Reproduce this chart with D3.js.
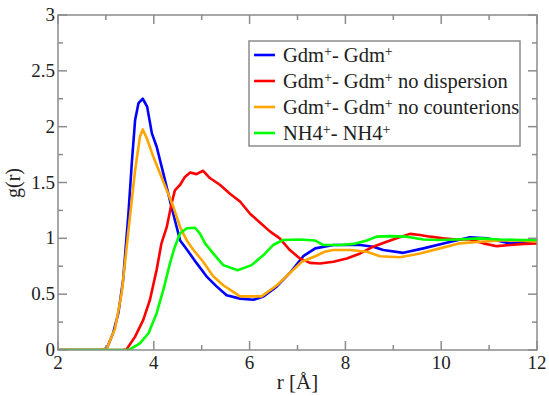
<!DOCTYPE html>
<html>
<head>
<meta charset="utf-8">
<script src="https://cdn.jsdelivr.net/npm/d3@7"></script>
<style>
  html, body { margin: 0; padding: 0; background: #fff; }
  svg { display: block; }
</style>
</head>
<body>
<svg id="chart" width="549" height="396"></svg>
<script>
// g(r) radial distribution functions
const blueR = [2, 2.9, 3.02, 3.15, 3.26, 3.36, 3.47, 3.54, 3.61, 3.68, 3.77, 3.86, 3.96, 4.06, 4.20, 4.37, 4.55, 4.69, 4.89, 5.10, 5.31, 5.52, 5.80, 6.08, 6.29, 6.57, 6.84, 7.12, 7.37, 7.75, 8.03, 8.31, 8.58, 8.79, 9.21, 9.63, 10.11, 10.60, 10.95, 11.44, 11.92, 12];
const blueG = [0, 0, 0.015, 0.15, 0.33, 0.63, 1.22, 1.67, 2.06, 2.21, 2.25, 2.18, 1.94, 1.82, 1.58, 1.28, 0.98, 0.90, 0.78, 0.66, 0.57, 0.49, 0.46, 0.45, 0.48, 0.57, 0.69, 0.84, 0.91, 0.94, 0.94, 0.94, 0.925, 0.895, 0.87, 0.91, 0.96, 1.01, 1.00, 0.955, 0.97, 0.97];

const redR = [2, 3.35, 3.43, 3.61, 3.78, 3.92, 4.06, 4.16, 4.27, 4.37, 4.44, 4.55, 4.65, 4.76, 4.89, 5.03, 5.17, 5.38, 5.59, 5.80, 6.01, 6.22, 6.43, 6.63, 6.84, 7.05, 7.26, 7.47, 7.75, 8.03, 8.31, 8.58, 8.86, 9.07, 9.35, 9.56, 9.77, 10.04, 10.32, 10.60, 10.88, 11.16, 11.44, 11.72, 12];
const redG = [0, 0, 0.005, 0.12, 0.27, 0.45, 0.72, 0.955, 1.10, 1.31, 1.43, 1.48, 1.55, 1.59, 1.575, 1.605, 1.54, 1.48, 1.40, 1.33, 1.22, 1.14, 1.06, 1.00, 0.895, 0.82, 0.78, 0.775, 0.79, 0.82, 0.865, 0.925, 0.97, 1.00, 1.04, 1.03, 1.015, 1.00, 0.99, 0.99, 0.955, 0.93, 0.94, 0.95, 0.955];

const orangeR = [2, 2.9, 3.02, 3.19, 3.33, 3.47, 3.61, 3.71, 3.77, 3.86, 3.99, 4.13, 4.27, 4.41, 4.55, 4.69, 4.82, 5.03, 5.24, 5.45, 5.66, 5.80, 6.01, 6.25, 6.57, 6.84, 7.09, 7.37, 7.57, 7.75, 8.10, 8.45, 8.72, 9.14, 9.56, 9.97, 10.39, 10.81, 11.23, 11.65, 12];
const orangeG = [0, 0, 0.015, 0.19, 0.51, 1.07, 1.61, 1.91, 1.975, 1.89, 1.73, 1.58, 1.43, 1.28, 1.10, 0.98, 0.90, 0.79, 0.66, 0.58, 0.52, 0.48, 0.48, 0.48, 0.58, 0.69, 0.79, 0.84, 0.88, 0.895, 0.895, 0.88, 0.84, 0.83, 0.865, 0.91, 0.955, 0.97, 0.98, 0.98, 0.97];

const greenR = [2, 3.4, 3.50, 3.71, 3.89, 4.06, 4.20, 4.34, 4.44, 4.55, 4.69, 4.86, 4.96, 5.07, 5.24, 5.45, 5.75, 6.04, 6.29, 6.49, 6.70, 7.05, 7.37, 7.54, 7.89, 8.17, 8.45, 8.65, 8.93, 9.28, 9.63, 9.97, 10.32, 10.81, 11.23, 11.65, 12];
const greenG = [0, 0, 0.005, 0.06, 0.15, 0.33, 0.54, 0.78, 0.925, 1.045, 1.09, 1.095, 1.045, 0.955, 0.865, 0.76, 0.715, 0.76, 0.85, 0.94, 0.985, 0.99, 0.98, 0.94, 0.94, 0.95, 0.98, 1.015, 1.02, 1.015, 0.99, 0.985, 0.99, 1.00, 0.99, 0.985, 0.985];

const xTicks = [2, 4, 6, 8, 10, 12];
const yTicks = [0, 0.5, 1, 1.5, 2, 2.5, 3];
const yTickLabels = ['0', '0.5', '1', '1.5', '2', '2.5', '3'];

const series = [
  { r: blueR, g: blueG, color: '#0000ff', label: ['Gdm', '+', '- Gdm', '+', ''] },
  { r: redR, g: redG, color: '#ff0000', label: ['Gdm', '+', '- Gdm', '+', ' no dispersion'] },
  { r: orangeR, g: orangeG, color: '#ffa500', label: ['Gdm', '+', '- Gdm', '+', ' no counterions'] },
  { r: greenR, g: greenG, color: '#00ff00', label: ['NH4', '+', '- NH4', '+', ''] }
];

const FONT = "'Liberation Serif', 'Times New Roman', serif";
const svg = d3.select('#chart');
const L = 58, R = 537, T = 15, B = 350;
const x = d3.scaleLinear().domain([2, 12]).range([L, R]);
const y = d3.scaleLinear().domain([0, 3]).range([B, T]);
const axisCol = '#8c8c8c';

// curves, clipped to plot box
svg.append('clipPath').attr('id', 'clip').append('rect')
  .attr('x', L).attr('y', T - 2).attr('width', R - L).attr('height', B - T + 2);
const line = d3.line().x(d => x(d[0])).y(d => y(d[1]));
const gl = svg.append('g').attr('clip-path', 'url(#clip)');
series.forEach(s => {
  gl.append('path').attr('d', line(s.r.map((v, i) => [v, s.g[i]])))
    .attr('fill', 'none').attr('stroke', s.color).attr('stroke-width', 2.6)
    .attr('stroke-linejoin', 'round');
});

// frame + inward ticks on all four sides
const frame = svg.append('g').attr('stroke', axisCol).attr('stroke-width', 1.5).attr('fill', 'none');
frame.append('rect').attr('x', L).attr('y', T).attr('width', R - L).attr('height', B - T);
const xMinor = d3.range(3, 12, 2), yMinor = d3.range(0.25, 3, 0.5);
xTicks.forEach(v => {
  frame.append('line').attr('x1', x(v)).attr('x2', x(v)).attr('y1', B).attr('y2', B - 9);
  frame.append('line').attr('x1', x(v)).attr('x2', x(v)).attr('y1', T).attr('y2', T + 9);
});
xMinor.forEach(v => {
  frame.append('line').attr('x1', x(v)).attr('x2', x(v)).attr('y1', B).attr('y2', B - 5);
  frame.append('line').attr('x1', x(v)).attr('x2', x(v)).attr('y1', T).attr('y2', T + 5);
});
yTicks.forEach(v => {
  frame.append('line').attr('y1', y(v)).attr('y2', y(v)).attr('x1', L).attr('x2', L + 9);
  frame.append('line').attr('y1', y(v)).attr('y2', y(v)).attr('x1', R).attr('x2', R - 9);
});
yMinor.forEach(v => {
  frame.append('line').attr('y1', y(v)).attr('y2', y(v)).attr('x1', L).attr('x2', L + 5);
  frame.append('line').attr('y1', y(v)).attr('y2', y(v)).attr('x1', R).attr('x2', R - 5);
});

// tick labels
xTicks.forEach(v => {
  svg.append('text').attr('x', x(v)).attr('y', 369).attr('text-anchor', 'middle')
    .attr('font-family', FONT).attr('font-size', 19).attr('fill', '#222').text(v);
});
yTicks.forEach((v, i) => {
  svg.append('text').attr('x', 55).attr('y', y(v) + 6).attr('text-anchor', 'end')
    .attr('font-family', FONT).attr('font-size', 19).attr('fill', '#222').text(yTickLabels[i]);
});

// axis titles
svg.append('text').attr('x', (L + R) / 2).attr('y', 389).attr('text-anchor', 'middle')
  .attr('font-family', FONT).attr('font-size', 21).attr('fill', '#222').text('r [Å]');
svg.append('text').attr('transform', 'translate(20,183) rotate(-90)').attr('text-anchor', 'middle')
  .attr('font-family', FONT).attr('font-size', 20).attr('fill', '#222').text('g(r)');

// legend
const lg = svg.append('g');
lg.append('rect').attr('x', 249).attr('y', 41).attr('width', 271).attr('height', 105)
  .attr('fill', '#fff').attr('stroke', axisCol).attr('stroke-width', 1.5);
series.forEach((s, i) => {
  const ly = 55 + i * 26;
  lg.append('line').attr('x1', 254).attr('x2', 275).attr('y1', ly).attr('y2', ly)
    .attr('stroke', s.color).attr('stroke-width', 2.6);
  const t = lg.append('text').attr('x', 283).attr('y', ly + 7)
    .attr('font-family', FONT).attr('font-size', 20.5).attr('fill', '#222');
  s.label.forEach((part, k) => {
    const sup = k === 1 || k === 3;
    t.append('tspan').attr('font-size', sup ? 14 : 20.5)
      .attr('baseline-shift', sup ? '45%' : null).text(part);
  });
});
</script>
</body>
</html>
